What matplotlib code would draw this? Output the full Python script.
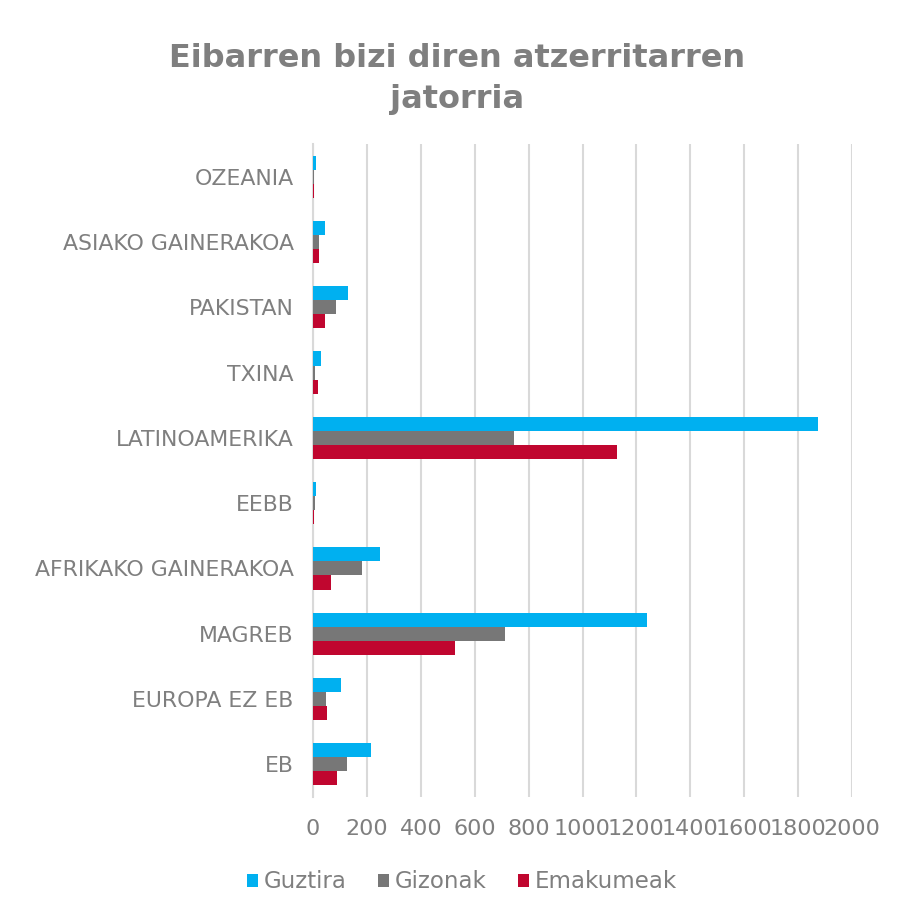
import matplotlib
matplotlib.use("Agg")
import matplotlib.pyplot as plt
import numpy as np

categories = ["EB", "EUROPA EZ EB", "MAGREB", "AFRIKAKO GAINERAKOA", "EEBB",
              "LATINOAMERIKA", "TXINA", "PAKISTAN", "ASIAKO GAINERAKOA", "OZEANIA"]
guztira = [215, 103, 1239, 250, 11, 1875, 30, 130, 46, 10]
gizonak = [125, 48, 712, 182, 6, 746, 9, 84, 22, 5]
emakumeak = [90, 51, 527, 67, 4, 1129, 17, 45, 24, 5]
xticks = np.arange(0, 2001, 200)

grey_txt = "#7f7f7f"
plt.rcParams['font.family'] = ['DejaVu Sans']

fig = plt.figure(figsize=(9.01, 9.13), dpi=100)
ax = fig.add_axes([313/901, 1-797/913, (852-313)/901, (797-144)/913])

y = np.arange(len(categories))
h = 0.215
ax.barh(y + h, guztira, height=h, color="#00b0f0", label="Guztira", zorder=3)
ax.barh(y, gizonak, height=h, color="#777777", label="Gizonak", zorder=3)
ax.barh(y - h, emakumeak, height=h, color="#c0062f", label="Emakumeak", zorder=3)

ax.set_xlim(0, 2000)
ax.set_ylim(-0.5, len(categories) - 0.5)
ax.set_xticks(xticks)
ax.set_xticklabels([str(v) for v in xticks])
ax.set_yticks(y)
ax.set_yticklabels(categories)
ax.xaxis.grid(True, color="#d9d9d9", linewidth=1.5, zorder=0)
ax.tick_params(axis='x', length=0, pad=16, labelsize=16, colors=grey_txt)
ax.tick_params(axis='y', length=0, pad=14, labelsize=15.8, colors=grey_txt)
for s in ["top", "right", "bottom"]:
    ax.spines[s].set_visible(False)
ax.spines["left"].set_color("#d9d9d9")
ax.spines["left"].set_linewidth(1.5)
ax.spines["left"].set_zorder(2)

fig.suptitle("Eibarren bizi diren atzerritarren\njatorria", x=0.507, y=0.953,
             fontsize=23, fontweight="bold", color=grey_txt, linespacing=1.4)

leg = fig.legend(loc="center", bbox_to_anchor=(0.513, 0.034), ncol=3, frameon=False,
                 fontsize=16.5, handlelength=0.5, handleheight=0.5, handletextpad=0.25,
                 columnspacing=1.35)
for t in leg.get_texts():
    t.set_color(grey_txt)

fig.savefig("out.png", dpi=100)
